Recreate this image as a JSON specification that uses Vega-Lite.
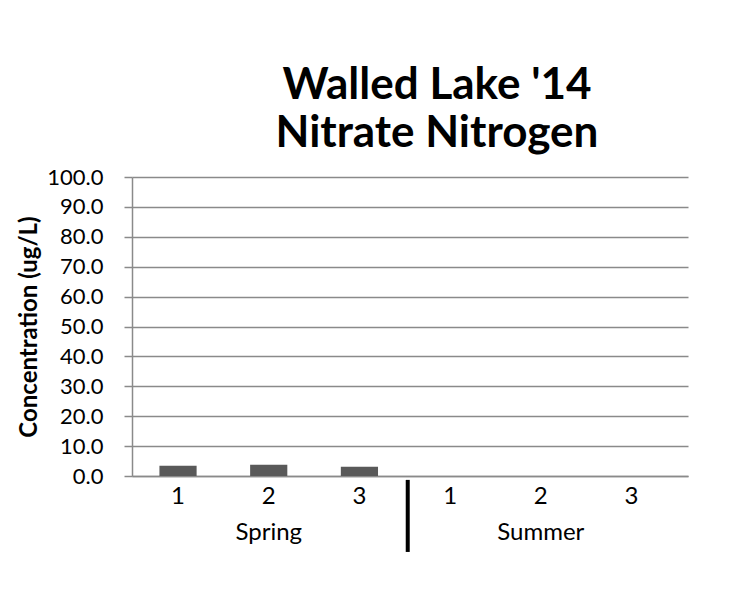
{
  "$schema": "https://vega.github.io/schema/vega-lite/v6.json",
  "width": 556,
  "height": 299,
  "autosize": "none",
  "padding": {"left": 132, "top": 177, "right": 55, "bottom": 116},
  "background": "white",
  "config": {"font": "Lato", "view": {"stroke": null}},
  "title": {
    "text": ["Walled Lake '14", "Nitrate Nitrogen"],
    "fontSize": 44,
    "fontWeight": "bold",
    "font": "Lato",
    "color": "black",
    "anchor": "middle",
    "dx": 27,
    "offset": 10,
    "lineHeight": 48
  },
  "data": {
    "values": [
      {"site": "Spring 1", "nitrate": 3.4},
      {"site": "Spring 2", "nitrate": 3.8},
      {"site": "Spring 3", "nitrate": 3.1},
      {"site": "Summer 1", "nitrate": 0},
      {"site": "Summer 2", "nitrate": 0},
      {"site": "Summer 3", "nitrate": 0}
    ]
  },
  "layer": [
    {
      "mark": {"type": "bar", "color": "#595959"},
      "encoding": {
        "x": {
          "field": "site",
          "type": "nominal",
          "scale": {
            "domain": ["Spring 1", "Spring 2", "Spring 3", "Summer 1", "Summer 2", "Summer 3"],
            "paddingInner": 0.59,
            "paddingOuter": 0.36,
            "align": 0.42
          },
          "axis": {
            "title": null,
            "ticks": false,
            "labelAngle": 0,
            "labelFontSize": 24,
            "labelColor": "black",
            "labelPadding": 8,
            "labelLineHeight": 36,
            "labelBaseline": "top",
            "domainColor": "#8a8a8a",
            "domainWidth": 1.5,
            "labelExpr": "slice(datum.value, -1) == '2' ? ['2', slice(datum.value, 0, -2)] : slice(datum.value, -1)"
          }
        },
        "y": {
          "field": "nitrate",
          "type": "quantitative",
          "scale": {"domain": [0, 100], "nice": false},
          "axis": {
            "values": [0, 10, 20, 30, 40, 50, 60, 70, 80, 90, 100],
            "tickCount": 11,
            "format": ".1f",
            "labelOverlap": false,
            "title": "Concentration (ug/L)",
            "titleFontSize": 24,
            "titleFontWeight": "bold",
            "titleColor": "black",
            "titlePadding": 5,
            "labelFontSize": 22,
            "labelColor": "black",
            "labelPadding": 21,
            "tickSize": 8,
            "tickColor": "#8a8a8a",
            "tickWidth": 1.5,
            "domainColor": "#8a8a8a",
            "domainWidth": 1.5,
            "gridColor": "#8a8a8a",
            "gridWidth": 1.5
          }
        }
      }
    },
    {
      "data": {"values": [{"site": "Summer 1", "top": -1.3, "bottom": -25.4}]},
      "mark": {"type": "rule", "color": "black", "strokeWidth": 4},
      "encoding": {
        "x": {"field": "site", "type": "nominal", "bandPosition": -0.64},
        "y": {"field": "top", "type": "quantitative"},
        "y2": {"field": "bottom"}
      }
    }
  ]
}
